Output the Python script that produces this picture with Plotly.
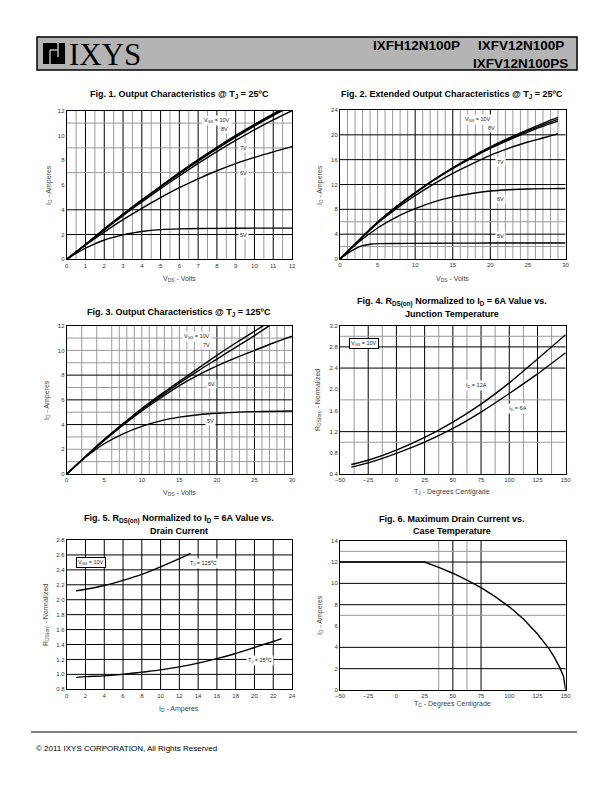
import plotly.graph_objects as go

# Page is 612x792; the HTML body has an 8px default margin, so the figure is
# sized to fill the rest and page-pixel positions are shifted by that margin.
PAGE_W, PAGE_H, BODY = 612, 792, 8
W, H = PAGE_W - BODY, PAGE_H - BODY

# ---------------- DATA ----------------
# Fig 1: Output characteristics @ TJ = 25C (VDS 0-12 V)
f1_vds_10v = [0, 1, 2, 3, 4, 5, 6, 7, 8, 9, 10, 11, 11.3]
f1_id_10v = [0, 1.2, 2.45, 3.65, 4.8, 5.9, 7.0, 8.05, 9.05, 10.0, 10.9, 11.75, 12.0]
f1_vds_9v = [0, 1, 2, 3, 4, 5, 6, 7, 8, 9, 10, 11, 11.4]
f1_id_9v = [0, 1.2, 2.44, 3.63, 4.78, 5.87, 6.95, 7.99, 8.98, 9.93, 10.83, 11.68, 12.0]
f1_vds_8v = [0, 1, 2, 3, 4, 5, 6, 7, 8, 9, 10, 11, 11.5]
f1_id_8v = [0, 1.19, 2.42, 3.6, 4.74, 5.83, 6.9, 7.93, 8.92, 9.86, 10.76, 11.6, 12.0]
f1_vds_7v = [0, 1, 2, 3, 4, 5, 6, 7, 8, 9, 10, 11, 12]
f1_id_7v = [0, 1.18, 2.38, 3.53, 4.63, 5.7, 6.74, 7.74, 8.7, 9.6, 10.45, 11.25, 12.0]
f1_vds_6v = [0, 1, 2, 3, 4, 5, 6, 7, 8, 9, 10, 11, 12]
f1_id_6v = [0, 1.15, 2.2, 3.2, 4.12, 4.98, 5.78, 6.5, 7.15, 7.73, 8.23, 8.68, 9.1]
f1_vds_5v = [0, 0.5, 1, 1.5, 2, 2.5, 3, 3.5, 4, 5, 6, 8, 10, 12]
f1_id_5v = [0, 0.48, 0.9, 1.25, 1.56, 1.78, 1.97, 2.12, 2.25, 2.4, 2.46, 2.5, 2.52, 2.52]

# Fig 2: Extended output characteristics @ TJ = 25C (VDS 0-30 V)
f2_vds = [0, 2.5, 5, 7.5, 10, 12.5, 15, 17.5, 20, 22.5, 25, 27.5, 29]
f2_id_10v = [0, 3.0, 5.95, 8.45, 10.7, 12.8, 14.7, 16.45, 18.05, 19.5, 20.85, 22.1, 22.8]
f2_id_9v = [0, 3.0, 5.9, 8.4, 10.65, 12.75, 14.65, 16.35, 17.95, 19.35, 20.65, 21.85, 22.5]
f2_id_8v = [0, 3.0, 5.88, 8.35, 10.6, 12.68, 14.55, 16.25, 17.8, 19.2, 20.45, 21.6, 22.2]
f2_id_7v = [0, 2.95, 5.75, 8.1, 10.2, 12.1, 13.8, 15.3, 16.7, 17.85, 18.85, 19.65, 20.2]
f2_vds_6v = [0, 2.5, 5, 7.5, 10, 12.5, 15, 17.5, 20, 22.5, 25, 27.5, 30]
f2_id_6v = [0, 2.75, 5.0, 6.75, 8.1, 9.2, 10.0, 10.55, 10.95, 11.15, 11.28, 11.33, 11.35]
f2_vds_5v = [0, 1, 2, 3, 4, 5, 7.5, 10, 15, 20, 25, 30]
f2_id_5v = [0, 0.9, 1.65, 2.15, 2.38, 2.47, 2.5, 2.52, 2.55, 2.57, 2.58, 2.58]

# Fig 3: Output characteristics @ TJ = 125C
f3_vds_10v = [0, 2.5, 5, 7.5, 10, 12.5, 15, 17.5, 20, 22.5, 25, 26.2]
f3_id_10v = [0, 1.42, 2.8, 4.08, 5.3, 6.42, 7.5, 8.55, 9.6, 10.6, 11.55, 12.0]
f3_vds_7v = [0, 2.5, 5, 7.5, 10, 12.5, 15, 17.5, 20, 22.5, 25, 27.0]
f3_id_7v = [0, 1.4, 2.76, 4.02, 5.2, 6.3, 7.35, 8.35, 9.3, 10.25, 11.2, 12.0]
f3_vds_6v = [0, 2.5, 5, 7.5, 10, 12.5, 15, 17.5, 20, 22.5, 25, 27.5, 30]
f3_id_6v = [0, 1.4, 2.72, 3.95, 5.1, 6.15, 7.15, 8.0, 8.75, 9.4, 10.0, 10.6, 11.15]
f3_vds_5v = [0, 1, 2.5, 5, 7.5, 10, 12.5, 15, 17.5, 20, 25, 30]
f3_id_5v = [0, 0.55, 1.35, 2.45, 3.25, 3.85, 4.3, 4.6, 4.8, 4.92, 5.05, 5.1]

# Fig 4: RDS(on) normalized vs junction temperature
f4_tj = [-40, -25, 0, 25, 50, 75, 100, 125, 150]
f4_r_12a = [0.58, 0.66, 0.85, 1.09, 1.38, 1.72, 2.12, 2.57, 3.03]
f4_r_6a = [0.53, 0.61, 0.79, 1.0, 1.26, 1.57, 1.92, 2.29, 2.69]

# Fig 5: RDS(on) normalized vs drain current
f5_id_125 = [1, 2, 4, 6, 8, 10, 12, 13.2]
f5_r_125 = [2.12, 2.14, 2.19, 2.26, 2.34, 2.44, 2.55, 2.62]
f5_id_25 = [1, 2, 4, 6, 8, 10, 12, 14, 16, 18, 20, 22, 22.9]
f5_r_25 = [0.96, 0.97, 0.98, 1.0, 1.03, 1.06, 1.1, 1.15, 1.21, 1.28, 1.36, 1.44, 1.48]

# Fig 6: Maximum drain current vs case temperature
f6_tc = [-50, 25, 37.5, 50, 62.5, 75, 87.5, 100, 112.5, 125, 135, 140, 145, 148, 150]
f6_id = [12, 12, 11.5, 10.95, 10.3, 9.6, 8.75, 7.8, 6.65, 5.25, 3.9, 3.05, 2.05, 1.3, 0]

# ---------------- LAYOUT HELPERS ----------------
def px(x):
    return (x - BODY) / W

def py(y):
    return 1 - (y - BODY) / H

TITLE_FONT = dict(family="Liberation Sans Narrow, Arial Narrow, Liberation Sans", size=9, color="black")
AX_FONT = dict(family="Liberation Sans, Arial", size=7, color="#444")
TICK_FONT = dict(family="Liberation Sans, Arial", size=6, color="#333")
LBL_FONT = dict(family="Liberation Sans, Arial", size=5.5, color="#222")

# plot areas in page pixels: (left, right, top, bottom)
boxes = {
    1: (66.7, 292, 110.7, 259.3),
    2: (340, 565.5, 110, 259),
    3: (66.7, 292, 325.7, 474),
    4: (340, 565.7, 325.7, 474),
    5: (66.7, 292, 540, 689.3),
    6: (340, 565.7, 540.7, 690),
}
ranges = {
    1: ([0, 12], [0, 12], 1, 2, None),
    2: ([0, 30], [0, 24], 5, 4, None),
    3: ([0, 30], [0, 12], 5, 2, None),
    4: ([-50, 150], [0.4, 3.2], 25, 0.4, ".1f"),
    5: ([0, 24], [0.8, 2.8], 2, 0.2, ".1f"),
    6: ([-50, 150], [0, 14], 25, 2, None),
}

fig = go.Figure()
layout = dict(width=W, height=H, margin=dict(l=0, r=0, t=0, b=0, pad=0, autoexpand=False),
              paper_bgcolor="white", plot_bgcolor="white", showlegend=False)
for i, (l, r, t, b) in boxes.items():
    xr, yr, dx, dy, yfmt = ranges[i]
    sfx = "" if i == 1 else str(i)
    layout["xaxis" + sfx] = dict(domain=[px(l), px(r)], range=xr, dtick=dx, tick0=xr[0],
                                 anchor="y" + sfx, showgrid=False, zeroline=False,
                                 showline=True, mirror=True, linecolor="black", linewidth=1,
                                 ticks="", tickfont=TICK_FONT, fixedrange=True, automargin=False)
    ya = dict(domain=[py(b), py(t)], range=yr, dtick=dy, tick0=yr[0],
              anchor="x" + sfx, showgrid=False, zeroline=False,
              showline=True, mirror=True, linecolor="black", linewidth=1,
              ticks="", tickfont=TICK_FONT, fixedrange=True, automargin=False)
    if yfmt:
        ya["tickformat"] = yfmt
    layout["yaxis" + sfx] = ya
fig.update_layout(**layout)

shapes = []
def vgrid(i, xs, color):
    sfx = "" if i == 1 else str(i)
    for x in xs:
        shapes.append(dict(type="line", xref="x" + sfx, yref="y" + sfx + " domain",
                           x0=x, x1=x, y0=0, y1=1, layer="below",
                           line=dict(color=color, width=1)))

def hgrid(i, ys, color):
    sfx = "" if i == 1 else str(i)
    for y in ys:
        shapes.append(dict(type="line", xref="x" + sfx + " domain", yref="y" + sfx,
                           x0=0, x1=1, y0=y, y1=y, layer="below",
                           line=dict(color=color, width=1)))

GRAY = "#9a9a9a"
BLACK = "#000000"
# Fig 1 grid
vgrid(1, [k + 0.5 for k in range(12)], GRAY)
vgrid(1, list(range(1, 12)), BLACK)
hgrid(1, [7, 9, 11], GRAY)
hgrid(1, [2, 4], BLACK)
# Fig 2 grid
vgrid(2, [k for k in range(1, 30) if k not in (10, 15, 20)], GRAY)
vgrid(2, [10, 15, 20], BLACK)
hgrid(2, [2, 6], GRAY)
hgrid(2, [4, 8, 12, 16, 20], BLACK)
# Fig 3 grid
vgrid(3, [k for k in range(2, 30) if k not in (3, 5, 20, 25)], GRAY)
vgrid(3, [20, 25], BLACK)
hgrid(3, [1, 2, 3, 5, 7, 9, 10, 11], GRAY)
hgrid(3, [4, 6, 8], BLACK)
# Fig 4 grid
vgrid(4, [-37.5, -12.5, 12.5, 37.5, 62.5, 87.5, 112.5, 137.5], GRAY)
vgrid(4, [-25, 0, 25, 50, 75, 100, 125], BLACK)
hgrid(4, [1.0, 1.8, 3.0], GRAY)
hgrid(4, [1.2, 2.4, 2.8], BLACK)
# Fig 5 grid
vgrid(5, list(range(2, 24, 2)), BLACK)
hgrid(5, [1.0, 1.2, 1.4, 1.6, 1.8, 2.0, 2.2, 2.4, 2.6], BLACK)
# Fig 6 grid
vgrid(6, [37.5, 62.5], GRAY)
vgrid(6, [50, 75], BLACK)
hgrid(6, [7, 13], GRAY)
hgrid(6, [2, 4, 8, 10, 12], BLACK)

# ---------------- TRACES ----------------
def curve(i, x, y, shape="spline"):
    sfx = "" if i == 1 else str(i)
    fig.add_trace(go.Scatter(x=x, y=y, mode="lines", xaxis="x" + sfx, yaxis="y" + sfx,
                             line=dict(color="black", width=1.4, shape=shape, smoothing=0.8),
                             hoverinfo="skip"))

curve(1, f1_vds_10v, f1_id_10v)
curve(1, f1_vds_9v, f1_id_9v)
curve(1, f1_vds_8v, f1_id_8v)
curve(1, f1_vds_7v, f1_id_7v)
curve(1, f1_vds_6v, f1_id_6v)
curve(1, f1_vds_5v, f1_id_5v)

curve(2, f2_vds, f2_id_10v)
curve(2, f2_vds, f2_id_9v)
curve(2, f2_vds, f2_id_8v)
curve(2, f2_vds, f2_id_7v)
curve(2, f2_vds_6v, f2_id_6v)
curve(2, f2_vds_5v, f2_id_5v)

curve(3, f3_vds_10v, f3_id_10v)
curve(3, f3_vds_7v, f3_id_7v)
curve(3, f3_vds_6v, f3_id_6v)
curve(3, f3_vds_5v, f3_id_5v)

curve(4, f4_tj, f4_r_12a)
curve(4, f4_tj, f4_r_6a)

curve(5, f5_id_125, f5_r_125)
curve(5, f5_id_25, f5_r_25)

curve(6, f6_tc, f6_id, shape="linear")

# ---------------- ANNOTATIONS ----------------
ann = []
def ptext(x, y, text, font, xanchor="center", yanchor="middle", angle=0):
    ann.append(dict(x=px(x), y=py(y), xref="paper", yref="paper", text=text, showarrow=False,
                    font=font, xanchor=xanchor, yanchor=yanchor, textangle=angle))

def dtext(i, x, y, text, box=False, xanchor="center"):
    sfx = "" if i == 1 else str(i)
    d = dict(x=x, y=y, xref="x" + sfx, yref="y" + sfx, text=text, showarrow=False,
             font=LBL_FONT, bgcolor="white", xanchor=xanchor, yanchor="middle", borderpad=1)
    if box:
        d.update(bordercolor="black", borderwidth=1)
    ann.append(d)

# Titles
ptext(179, 95, "<b>Fig. 1. Output Characteristics @ T<sub>J</sub> = 25ºC</b>", TITLE_FONT)
ptext(452, 95, "<b>Fig. 2. Extended Output Characteristics @ T<sub>J</sub> = 25ºC</b>", TITLE_FONT)
ptext(179, 312, "<b>Fig. 3. Output Characteristics @ T<sub>J</sub> = 125ºC</b>", TITLE_FONT)
ptext(452, 302, "<b>Fig. 4. R<sub>DS(on)</sub> Normalized to I<sub>D</sub> = 6A Value vs.</b>", TITLE_FONT)
ptext(452, 314, "<b>Junction Temperature</b>", TITLE_FONT)
ptext(179, 519, "<b>Fig. 5. R<sub>DS(on)</sub> Normalized to I<sub>D</sub> = 6A Value vs.</b>", TITLE_FONT)
ptext(179, 531, "<b>Drain Current</b>", TITLE_FONT)
ptext(452, 519, "<b>Fig. 6. Maximum Drain Current vs.</b>", TITLE_FONT)
ptext(452, 531, "<b>Case Temperature</b>", TITLE_FONT)

# Axis titles
ptext(179, 279, "V<sub>DS</sub> - Volts", AX_FONT)
ptext(452, 279, "V<sub>DS</sub> - Volts", AX_FONT)
ptext(179, 493, "V<sub>DS</sub> - Volts", AX_FONT)
ptext(452, 492, "T<sub>J</sub> - Degrees Centigrade", AX_FONT)
ptext(179, 709, "I<sub>D</sub> - Amperes", AX_FONT)
ptext(452, 704, "T<sub>C</sub> - Degrees Centigrade", AX_FONT)
ptext(49, 185, "I<sub>D</sub> - Amperes", AX_FONT, angle=-90)
ptext(320, 185, "I<sub>D</sub> - Amperes", AX_FONT, angle=-90)
ptext(47, 400, "I<sub>D</sub> - Amperes", AX_FONT, angle=-90)
ptext(318, 400, "R<sub>DS(on)</sub> - Normalized", AX_FONT, angle=-90)
ptext(46, 615, "R<sub>DS(on)</sub> - Normalized", AX_FONT, angle=-90)
ptext(320, 615, "I<sub>D</sub> - Amperes", AX_FONT, angle=-90)

# In-plot labels
dtext(1, 8.0, 11.2, "V<sub>GS</sub> = 10V")
dtext(1, 8.4, 10.5, "8V")
dtext(1, 9.4, 9.0, "7V")
dtext(1, 9.4, 7.0, "6V")
dtext(1, 9.4, 2.0, "5V")

dtext(2, 18.4, 22.4, "V<sub>GS</sub> = 10V")
dtext(2, 20.2, 21.1, "8V")
dtext(2, 21.3, 15.6, "7V")
dtext(2, 21.4, 9.7, "6V")
dtext(2, 21.4, 3.7, "5V")

dtext(3, 17.3, 11.15, "V<sub>GS</sub> = 10V")
dtext(3, 18.6, 10.4, "7V")
dtext(3, 19.3, 7.3, "6V")
dtext(3, 19.1, 4.25, "5V")

dtext(4, -29, 2.86, "V<sub>GS</sub> = 10V", box=True)
dtext(4, 71, 2.08, "I<sub>D</sub> = 12A")
dtext(4, 108, 1.64, "I<sub>D</sub> = 6A")

dtext(5, 2.6, 2.5, "V<sub>GS</sub> = 10V", box=True)
dtext(5, 14.6, 2.48, "T<sub>J</sub> = 125ºC")
dtext(5, 20.6, 1.19, "T<sub>J</sub> = 25ºC")

# Header
HEAD_GRAY = "#b4b4b4"
shapes.append(dict(type="rect", xref="paper", yref="paper", x0=px(37), x1=px(577),
                   y0=py(70), y1=py(37), fillcolor=HEAD_GRAY, line=dict(color="black", width=1.5),
                   layer="below"))
# logo mark
shapes.append(dict(type="rect", xref="paper", yref="paper", x0=px(43), x1=px(65),
                   y0=py(64), y1=py(43), fillcolor="black", line=dict(width=0), layer="above"))
shapes.append(dict(type="line", xref="paper", yref="paper", x0=px(50), x1=px(50),
                   y0=py(50), y1=py(64), line=dict(color=HEAD_GRAY, width=1.5), layer="above"))
shapes.append(dict(type="line", xref="paper", yref="paper", x0=px(50), x1=px(58),
                   y0=py(50), y1=py(50), line=dict(color=HEAD_GRAY, width=1.5), layer="above"))
shapes.append(dict(type="line", xref="paper", yref="paper", x0=px(58), x1=px(58),
                   y0=py(43), y1=py(57), line=dict(color=HEAD_GRAY, width=1.5), layer="above"))
ptext(67, 54.5, "IXYS", dict(family="Liberation Serif, Times New Roman", size=31, color="black"),
      xanchor="left")
HEAD_FONT = dict(family="Liberation Sans, Arial", size=13.5, color="black")
ptext(462, 46, "<b>IXFH12N100P</b>", HEAD_FONT, xanchor="right")
ptext(566, 46, "<b>IXFV12N100P</b>", HEAD_FONT, xanchor="right")
ptext(570, 63, "<b>IXFV12N100PS</b>", HEAD_FONT, xanchor="right")

# Footer
shapes.append(dict(type="line", xref="paper", yref="paper", x0=px(31), x1=px(577),
                   y0=py(732), y1=py(732), line=dict(color="black", width=1)))
ptext(34, 748, "© 2011 IXYS CORPORATION, All Rights Reserved",
      dict(family="Liberation Sans, Arial", size=8, color="black"), xanchor="left")

fig.update_layout(shapes=shapes, annotations=ann)
fig.write_html("out.html")
